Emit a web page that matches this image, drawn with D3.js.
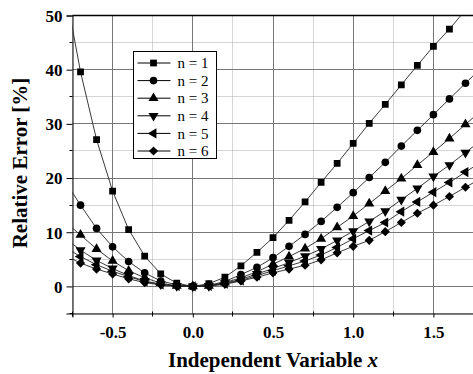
<!DOCTYPE html>
<html>
<head>
<meta charset="utf-8">
<script src="https://d3js.org/d3.v7.min.js"></script>
<style>
  body { margin: 0; background: #fff; }
  text { font-family: "Liberation Serif", "Times New Roman", serif; }
</style>
</head>
<body>
<svg id="chart"></svg>
<script>
// relative error curves, n = 1..6
var xs = [-0.8, -0.7, -0.6, -0.5, -0.4, -0.3, -0.2, -0.1, 0.0, 0.1, 0.2, 0.3, 0.4,
          0.5, 0.6, 0.7, 0.8, 0.9, 1.0, 1.1, 1.2, 1.3, 1.4, 1.5, 1.6, 1.7, 1.8];

var n1 = [55.5, 39.6, 27.1, 17.6, 10.5, 5.6, 2.3, 0.6, 0, 0.5, 1.7, 3.8, 6.3,
          9.0, 12.2, 15.6, 19.2, 22.7, 26.4, 30.1, 33.6, 37.2, 40.8, 44.3, 47.5, 51.0, 54.5];
var n2 = [19.6, 15.0, 10.7, 7.3, 4.6, 2.5, 1.0, 0.3, 0, 0.2, 0.9, 2.2, 3.5,
          5.3, 7.4, 9.6, 12.0, 14.6, 17.3, 20.1, 22.9, 25.9, 28.8, 31.7, 34.6, 37.5, 40.4];
var n3 = [12.0, 9.5, 6.9, 4.7, 2.9, 1.6, 0.6, 0.1, 0, 0.1, 0.7, 1.6, 2.7,
          4.1, 5.5, 7.0, 8.8, 10.9, 13.0, 15.3, 17.6, 19.9, 22.4, 24.8, 27.3, 29.9, 32.5];
var n4 = [9.0, 6.7, 4.8, 3.3, 2.0, 1.0, 0.4, 0.1, 0, 0.1, 0.6, 1.3, 2.3,
          3.3, 4.4, 5.6, 6.9, 8.5, 10.2, 12.0, 13.9, 16.0, 18.1, 20.3, 22.4, 24.7, 27.0];
var n5 = [7.3, 5.5, 4.0, 2.8, 1.8, 0.9, 0.35, 0.08, 0, 0.08, 0.5, 1.1, 2.0,
          2.9, 3.8, 4.7, 5.8, 7.2, 8.8, 10.3, 11.8, 13.8, 15.6, 17.4, 19.2, 21.1, 23.0];
var n6 = [5.8, 4.3, 3.2, 2.3, 1.4, 0.7, 0.3, 0.06, 0, 0.06, 0.4, 1.0, 1.7,
          2.5, 3.2, 3.9, 4.9, 6.2, 7.4, 8.5, 10.1, 11.8, 13.5, 15.0, 16.6, 18.3, 20.0];

var seriesNames = ["n = 1", "n = 2", "n = 3", "n = 4", "n = 5", "n = 6"];
var seriesValues = [n1, n2, n3, n4, n5, n6];

var xTicks = [-0.5, 0.0, 0.5, 1.0, 1.5];
var xMinor = [-0.75, -0.25, 0.25, 0.75, 1.25, 1.75];
var yTicks = [0, 10, 20, 30, 40, 50];
var yMinor = [-5, 5, 15, 25, 35, 45];

var width = 473, height = 374;
var pLeft = 72.5, pRight = 473.5, pTop = 15.5, pBottom = 313.5;

var svg = d3.select("svg#chart")
    .attr("width", width)
    .attr("height", height);

var x = d3.scaleLinear()
    .domain([-0.75, 1.75])
    .range([pLeft, pRight]);

var y = d3.scaleLinear()
    .domain([-5, 50])
    .range([pBottom, pTop]);

function px(v) { return Math.round(v - 0.5) + 0.5; }

// grid
var grid = svg.append("g");
grid.selectAll("line.xminor").data(xMinor).enter().append("line")
    .attr("x1", function(d) { return px(x(d)) }).attr("x2", function(d) { return px(x(d)) })
    .attr("y1", pTop).attr("y2", pBottom)
    .attr("stroke", "#aaa").attr("stroke-dasharray", "1,1");
grid.selectAll("line.yminor").data(yMinor).enter().append("line")
    .attr("y1", function(d) { return px(y(d)) }).attr("y2", function(d) { return px(y(d)) })
    .attr("x1", pLeft).attr("x2", pRight)
    .attr("stroke", "#aaa").attr("stroke-dasharray", "1,1");
grid.selectAll("line.xmajor").data(xTicks).enter().append("line")
    .attr("x1", function(d) { return px(x(d)) }).attr("x2", function(d) { return px(x(d)) })
    .attr("y1", pTop).attr("y2", pBottom)
    .attr("stroke", "#777");
grid.selectAll("line.ymajor").data(yTicks).enter().append("line")
    .attr("y1", function(d) { return px(y(d)) }).attr("y2", function(d) { return px(y(d)) })
    .attr("x1", pLeft).attr("x2", pRight)
    .attr("stroke", "#777");

// axes
var fmt = d3.format(".1f");
var xAxis = svg.append("g")
    .attr("transform", "translate(0," + pBottom + ")")
    .call(d3.axisBottom(x).tickValues(xTicks).tickSize(4).tickPadding(8)
        .tickFormat(function(d) { return fmt(d).replace("\u2212", "-") }));
xAxis.append("g").selectAll("line").data(xMinor).enter().append("line")
    .attr("x1", function(d) { return px(x(d)) }).attr("x2", function(d) { return px(x(d)) })
    .attr("y1", -2).attr("y2", 3).attr("stroke", "#000");

var yAxis = svg.append("g")
    .attr("transform", "translate(" + pLeft + ",0)")
    .call(d3.axisLeft(y).tickValues(yTicks).tickSize(6).tickPadding(4));
yAxis.append("g").selectAll("line").data(yMinor).enter().append("line")
    .attr("y1", function(d) { return px(y(d)) }).attr("y2", function(d) { return px(y(d)) })
    .attr("x1", -3).attr("x2", 0).attr("stroke", "#000");

svg.selectAll(".domain").attr("stroke", "#000");
svg.selectAll(".tick text")
    .style("font-family", "'Liberation Serif', serif")
    .style("font-weight", "bold")
    .style("font-size", "17px")
    .attr("fill", "#000");
xAxis.selectAll(".tick text").attr("dy", "0.75em");
yAxis.selectAll(".tick text").attr("dy", "0.34em");

// top frame
svg.append("line")
    .attr("x1", pLeft).attr("x2", pRight).attr("y1", pTop).attr("y2", pTop)
    .attr("stroke", "#000").attr("stroke-width", 1.3);

// labels
svg.append("text")
    .attr("x", 273).attr("y", 367)
    .attr("text-anchor", "middle")
    .style("font-weight", "bold").style("font-size", "21px")
    .html("Independent Variable <tspan font-style='italic'>x</tspan>");

svg.append("text")
    .attr("transform", "translate(27,163) rotate(-90)")
    .attr("text-anchor", "middle")
    .style("font-weight", "bold").style("font-size", "21px")
    .text("Relative Error [%]");

// series
svg.append("clipPath").attr("id", "clip")
    .append("rect").attr("x", pLeft).attr("y", pTop)
    .attr("width", pRight - pLeft).attr("height", pBottom - pTop);

var symbols = [
    { type: d3.symbolSquare, size: 46, rot: 0 },
    { type: d3.symbolCircle, size: 46, rot: 0 },
    { type: d3.symbolTriangle, size: 44, rot: 0 },
    { type: d3.symbolTriangle, size: 44, rot: 180 },
    { type: d3.symbolTriangle, size: 44, rot: -90 },
    { type: d3.symbolSquare, size: 42, rot: 45 }
];

var line = d3.line()
    .x(function(d) { return x(d.x) })
    .y(function(d) { return y(d.y) });

var plot = svg.append("g").attr("clip-path", "url(#clip)");

seriesValues.forEach(function(vals, i) {
    var data = xs.map(function(xv, j) { return { x: xv, y: vals[j] } });
    plot.append("path")
        .datum(data)
        .attr("d", line)
        .attr("fill", "none")
        .attr("stroke", "#222")
        .attr("stroke-width", 0.9);
    plot.selectAll("path.m" + i)
        .data(data.filter(function(d) { return d.x > -0.75 && d.x < 1.75 }))
        .enter()
        .append("path")
        .attr("class", "m" + i)
        .attr("d", d3.symbol().type(symbols[i].type).size(symbols[i].size))
        .attr("transform", function(d) { return "translate(" + x(d.x) + "," + y(d.y) + ") rotate(" + symbols[i].rot + ")" })
        .attr("fill", "#000");
});

// legend
var legend = svg.append("g").attr("transform", "translate(133.5,51.5)");
legend.append("rect")
    .attr("width", 83).attr("height", 107)
    .attr("fill", "#fff").attr("stroke", "#000");

var rows = legend.selectAll("g.row")
    .data(seriesNames)
    .enter()
    .append("g")
    .attr("class", "row")
    .attr("transform", function(d, i) { return "translate(0," + (11.5 + i * 17.6) + ")" });

rows.append("line")
    .attr("x1", 4).attr("x2", 37).attr("y1", 0).attr("y2", 0)
    .attr("stroke", "#000");
rows.append("path")
    .attr("d", function(d, i) { return d3.symbol().type(symbols[i].type).size(symbols[i].size)() })
    .attr("transform", function(d, i) { return "translate(20,0) rotate(" + symbols[i].rot + ")" })
    .attr("fill", "#000");
rows.append("text")
    .attr("x", 44).attr("y", 0).attr("dy", "0.35em")
    .style("font-size", "15px")
    .text(function(d) { return d });
</script>
</body>
</html>
